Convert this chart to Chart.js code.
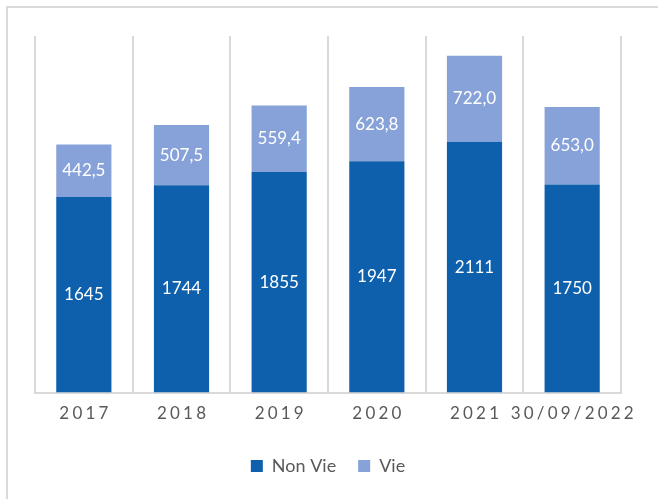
<!DOCTYPE html>
<html>
<head>
<meta charset="utf-8">
<script src="https://cdn.jsdelivr.net/npm/chart.js@4/dist/chart.umd.min.js"></script>
<style>
  html, body { margin: 0; padding: 0; background: #fff; }
  #wrap { position: relative; width: 658px; height: 499px; overflow: hidden; }
  #frame {
    position: absolute; left: 6px; top: 6px; width: 700px; height: 600px;
    border-top: 2px solid #d9d9d9; border-left: 2px solid #d9d9d9;
  }
  canvas { position: absolute; left: 0; top: 0; }
</style>
</head>
<body>
<div id="wrap">
  <div id="frame"></div>
  <canvas id="chart" width="658" height="499"></canvas>
</div>
<script>
const categories = ['2017', '2018', '2019', '2020', '2021', '30/09/2022'];
const nonVie = [1645, 1744, 1855, 1947, 2111, 1750];
const vie = [442.5, 507.5, 559.4, 623.8, 722.0, 653.0];
const yMax = 3000;

const darkBlue = '#0e60ad';
const lightBlue = '#87a2d8';
const greyText = '#595959';
const gridGrey = '#d9d9d9';
const fontFamily = 'Lato, "Open Sans", sans-serif';

// labels in the middle of every bar segment
const segmentLabels = {
  id: 'segmentLabels',
  afterDatasetsDraw(chart) {
    const ctx = chart.ctx;
    ctx.save();
    ctx.fillStyle = '#ffffff';
    ctx.font = '17px ' + fontFamily;
    ctx.textAlign = 'center';
    ctx.textBaseline = 'middle';
    chart.data.datasets.forEach(function (ds, i) {
      const meta = chart.getDatasetMeta(i);
      meta.data.forEach(function (bar, j) {
        const p = bar.getProps(['x', 'y', 'base'], true);
        const v = ds.data[j];
        const txt = i === 0 ? String(v) : v.toFixed(1).replace('.', ',');
        ctx.fillText(txt, p.x, (p.y + p.base) / 2);
      });
    });
    ctx.restore();
  }
};

new Chart(document.getElementById('chart'), {
  type: 'bar',
  data: {
    labels: categories,
    datasets: [
      { label: 'Non Vie', data: nonVie, backgroundColor: darkBlue },
      { label: 'Vie', data: vie, backgroundColor: lightBlue }
    ]
  },
  options: {
    responsive: false,
    animation: false,
    datasets: {
      bar: { barPercentage: 0.565, categoryPercentage: 1 }
    },
    layout: { padding: { left: 35, right: 37, top: 36, bottom: 14 } },
    scales: {
      x: {
        stacked: true,
        offset: true,
        grid: { display: true, offset: true, color: gridGrey, lineWidth: 2, drawTicks: false },
        border: { display: true, color: gridGrey, width: 2 },
        ticks: {
          color: greyText,
          padding: 11,
          autoSkip: false,
          maxRotation: 0,
          font: { family: fontFamily, size: 17 },
          callback: function (value, index) {
            return categories[index].split('').join('\u2009\u200a');
          }
        }
      },
      y: {
        stacked: true,
        display: false,
        min: 0,
        max: yMax
      }
    },
    plugins: {
      legend: {
        position: 'bottom',
        labels: {
          color: greyText,
          boxWidth: 12,
          boxHeight: 12,
          padding: 22,
          font: { family: fontFamily, size: 18 }
        }
      },
      tooltip: { enabled: false }
    }
  },
  plugins: [segmentLabels]
});
</script>
</body>
</html>
